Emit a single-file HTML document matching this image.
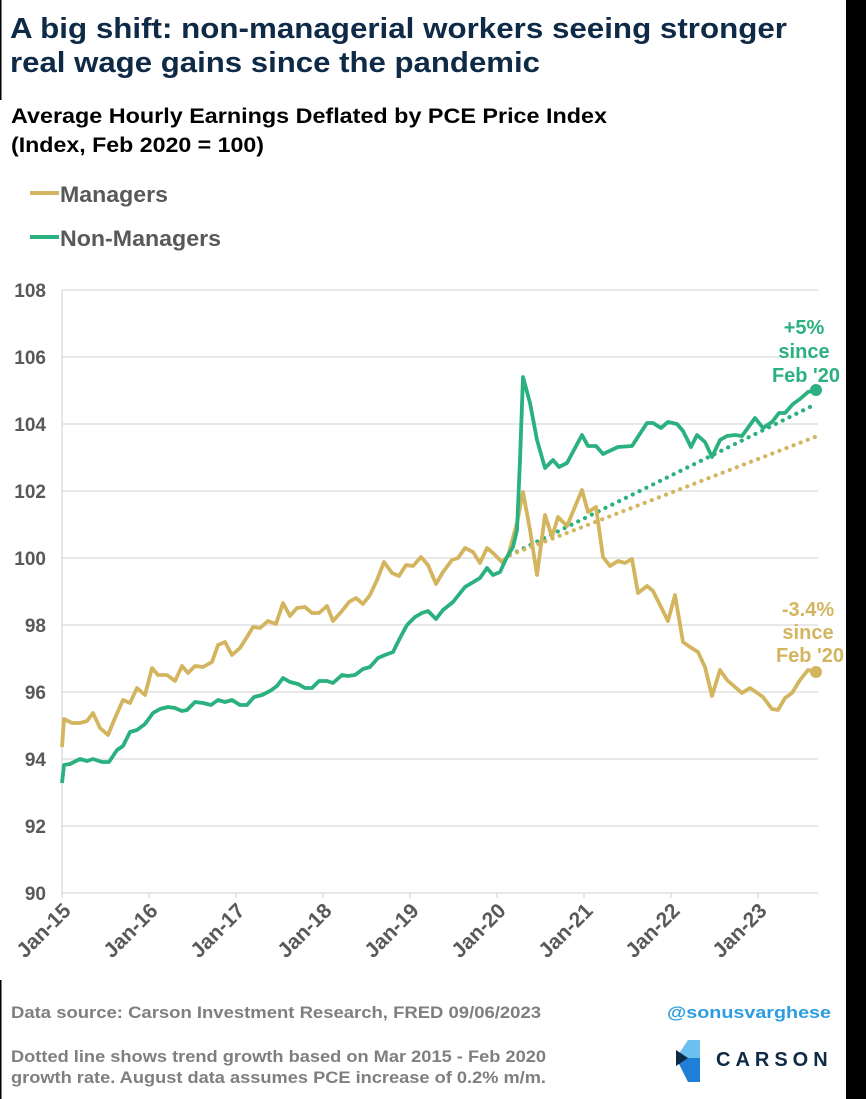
<!DOCTYPE html>
<html><head><meta charset="utf-8"><style>
html,body{margin:0;padding:0;background:#fff;}
svg{display:block;font-family:"Liberation Sans",Arial,sans-serif;}
</style></head><body>
<svg width="866" height="1099" viewBox="0 0 866 1099" xmlns="http://www.w3.org/2000/svg">
<rect width="866" height="1099" fill="#fff"/>
<rect x="846" y="0" width="20" height="1099" fill="#000"/>
<rect x="0" y="0" width="1.5" height="100" fill="#000"/>
<rect x="0" y="980" width="1.5" height="119" fill="#000"/>
<g font-weight="bold">
<text x="10" y="38" font-size="29" fill="#0e2a47" textLength="777" lengthAdjust="spacingAndGlyphs">A big shift: non-managerial workers seeing stronger</text>
<text x="10" y="72" font-size="29" fill="#0e2a47" textLength="530" lengthAdjust="spacingAndGlyphs">real wage gains since the pandemic</text>
<text x="11" y="123" font-size="21" fill="#000" textLength="596" lengthAdjust="spacingAndGlyphs">Average Hourly Earnings Deflated by PCE Price Index</text>
<text x="11" y="152" font-size="21" fill="#000" textLength="253" lengthAdjust="spacingAndGlyphs">(Index, Feb 2020 = 100)</text>
<line x1="30" y1="193" x2="59" y2="193" stroke="#d4b55f" stroke-width="4"/>
<text x="60" y="202" font-size="22" fill="#595959" textLength="108" lengthAdjust="spacingAndGlyphs">Managers</text>
<line x1="30" y1="237" x2="59" y2="237" stroke="#2bb07f" stroke-width="4"/>
<text x="60" y="246" font-size="22" fill="#595959" textLength="161" lengthAdjust="spacingAndGlyphs">Non-Managers</text>
</g>
<g stroke="#d9d9d9" stroke-width="1.3">
<line x1="62" y1="290" x2="818" y2="290"/><line x1="62" y1="357" x2="818" y2="357"/>
<line x1="62" y1="424" x2="818" y2="424"/><line x1="62" y1="491" x2="818" y2="491"/>
<line x1="62" y1="558" x2="818" y2="558"/><line x1="62" y1="625" x2="818" y2="625"/>
<line x1="62" y1="692" x2="818" y2="692"/><line x1="62" y1="759" x2="818" y2="759"/>
<line x1="62" y1="826" x2="818" y2="826"/><line x1="62" y1="893" x2="818" y2="893"/>
<line x1="62" y1="290" x2="62" y2="898"/>
<line x1="149" y1="893" x2="149" y2="898"/><line x1="236" y1="893" x2="236" y2="898"/>
<line x1="323" y1="893" x2="323" y2="898"/><line x1="410" y1="893" x2="410" y2="898"/>
<line x1="497" y1="893" x2="497" y2="898"/><line x1="584" y1="893" x2="584" y2="898"/>
<line x1="671" y1="893" x2="671" y2="898"/><line x1="758" y1="893" x2="758" y2="898"/>
</g>
<g font-size="19" font-weight="bold" fill="#595959" text-anchor="end">
<text x="46" y="297">108</text><text x="46" y="364">106</text><text x="46" y="431">104</text>
<text x="46" y="498">102</text><text x="46" y="565">100</text><text x="46" y="632">98</text>
<text x="46" y="699">96</text><text x="46" y="766">94</text><text x="46" y="833">92</text>
<text x="46" y="900">90</text>
</g>
<g font-size="21" font-weight="bold" fill="#595959" text-anchor="end">
<text transform="translate(72,912) rotate(-45)">Jan-15</text>
<text transform="translate(159,912) rotate(-45)">Jan-16</text>
<text transform="translate(246,912) rotate(-45)">Jan-17</text>
<text transform="translate(333,912) rotate(-45)">Jan-18</text>
<text transform="translate(420,912) rotate(-45)">Jan-19</text>
<text transform="translate(507,912) rotate(-45)">Jan-20</text>
<text transform="translate(594,912) rotate(-45)">Jan-21</text>
<text transform="translate(681,912) rotate(-45)">Jan-22</text>
<text transform="translate(768,912) rotate(-45)">Jan-23</text>
</g>
<line x1="510" y1="555" x2="810" y2="407" stroke="#2bb07f" stroke-width="4.2" stroke-dasharray="0.1 7.5" stroke-linecap="round"/>
<line x1="510" y1="555" x2="815" y2="437" stroke="#d4b55f" stroke-width="4.2" stroke-dasharray="0.1 7.5" stroke-linecap="round"/>
<polyline fill="none" stroke="#d4b55f" stroke-width="3.8" stroke-linejoin="round" points="62,747 64,719 72,723 80,723 87,721 93,713 100,728 108,735 115,718 123,700 130,703 137,688 145,695 152,668 158,675 167,675 175,681 182,666 188,673 195,666 203,667 212,662 218,645 225,642 232,655 240,648 247,637 253,627 260,628 268,621 276,624 283,603 290,616 297,608 305,607 312,613 319,613 327,606 333,621 342,611 349,602 356,598 363,604 370,595 377,580 384,562 392,573 399,576 406,565 413,566 421,557 428,565 436,584 443,572 452,560 458,558 465,548 473,552 480,563 487,548 493,553 502,562 508,556 517,523 523,492 530,530 537,575 545,515 552,537 558,517 567,526 582,490 588,512 596,507 603,557 610,566 618,561 625,563 632,559 638,593 647,586 653,591 661,607 668,621 675,595 683,642 690,647 698,652 705,667 712,696 720,670 727,680 735,687 742,693 750,688 763,697 772,709 778,710 785,698 792,693 800,680 808,670 816,672"/>
<polyline fill="none" stroke="#2bb07f" stroke-width="3.8" stroke-linejoin="round" points="62,783 64,765 70,764 80,759 87,761 93,759 102,762 109,762 117,750 123,746 130,732 137,730 145,724 153,713 160,709 168,707 175,708 182,711 187,710 195,702 203,703 211,705 218,700 225,702 232,700 240,705 247,705 254,697 262,695 270,691 277,686 283,678 290,682 298,684 305,688 312,688 319,681 327,681 333,683 342,675 348,676 355,675 363,669 370,667 378,658 385,655 393,652 400,638 407,625 415,617 422,613 428,611 436,619 443,610 453,602 465,587 480,578 487,568 493,575 500,572 507,557 513,547 517,530 520,460 523,377 530,403 537,440 545,468 553,460 559,467 567,463 582,435 588,446 596,446 603,454 618,447 632,446 647,423 653,423 661,428 668,422 677,424 683,431 691,447 697,435 705,442 712,457 720,440 727,436 735,435 742,436 755,418 763,428 772,422 779,413 785,413 793,404 800,399 808,392 816,390"/>
<circle cx="816" cy="390" r="6" fill="#2bb07f"/>
<circle cx="816" cy="672" r="6" fill="#d4b55f"/>
<g font-size="20" font-weight="bold" text-anchor="middle">
<text x="804" y="334" fill="#2bb07f">+5%</text>
<text x="804" y="358" fill="#2bb07f">since</text>
<text x="806" y="382" fill="#2bb07f">Feb '20</text>
<text x="808" y="616" fill="#d4b55f">-3.4%</text>
<text x="808" y="639" fill="#d4b55f">since</text>
<text x="810" y="662" fill="#d4b55f">Feb '20</text>
</g>
<g font-size="17" font-weight="bold">
<text x="11" y="1018" fill="#7f7f7f" textLength="530" lengthAdjust="spacingAndGlyphs">Data source: Carson Investment Research, FRED   09/06/2023</text>
<text x="667" y="1018" fill="#2b9de0" textLength="164" lengthAdjust="spacingAndGlyphs">@sonusvarghese</text>
<text x="11" y="1062" fill="#7f7f7f" textLength="535" lengthAdjust="spacingAndGlyphs">Dotted line shows trend growth based on Mar 2015 - Feb 2020</text>
<text x="11" y="1083" fill="#7f7f7f" textLength="535" lengthAdjust="spacingAndGlyphs">growth rate. August data assumes PCE increase of 0.2% m/m.</text>
</g>
<polygon points="688,1040 700,1040 700,1058 676,1058" fill="#6cc0f0"/>
<polygon points="676,1058 700,1058 700,1082 688,1082" fill="#1f7fd6"/>
<polygon points="676,1050 688,1058 676,1066" fill="#0e2a47"/>
<text x="716" y="1066" font-size="20" font-weight="bold" fill="#0e2a47" letter-spacing="5">CARSON</text>
</svg>
</body></html>
